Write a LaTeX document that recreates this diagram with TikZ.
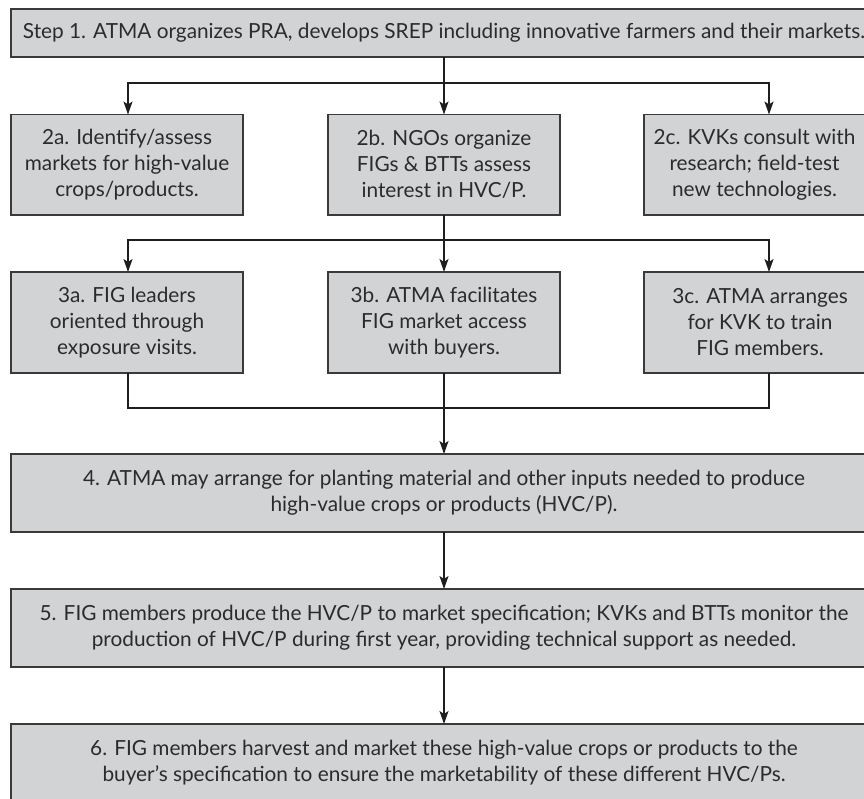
\documentclass[tikz,border=0pt]{standalone}
\usepackage{fontspec}
\setmainfont{Lato}
\usetikzlibrary{arrows.meta,calc}
\definecolor{boxfill}{HTML}{D2D3D5}
\definecolor{boxline}{HTML}{3A3A3A}
\definecolor{ink}{HTML}{2B2B2B}
\definecolor{wire}{HTML}{1E1E1E}
\begin{document}
\begin{tikzpicture}[x=1pt,y=-1pt,
  stepbox/.style={draw=boxline, line width=1.3pt, fill=boxfill, text=ink,
    align=center, inner sep=0pt, outer sep=0pt, anchor=north west,
    font=\fontsize{20.8}{26}\selectfont},
  widebox/.style={stepbox, minimum width=866pt},
  smallbox/.style={stepbox, minimum width=232pt},
  link/.style={draw=wire, line width=1.6pt},
  arr/.style={link, -{Stealth[length=13pt,width=9pt,inset=3pt]}}]
\useasboundingbox (0,0) rectangle (864,798);
\fill[white] (0,0) rectangle (864,798);

% step boxes
\node[widebox, minimum height=48pt] (s1) at (11,9)
  {Step 1. ATMA organizes PRA, develops SREP including innovative farmers and their markets.};

\node[smallbox, minimum height=100.5pt] (a2) at (11,114.5)
  {2a. Identify/assess\\markets for high-value\\crops/products.};
\node[smallbox, minimum height=100.5pt] (b2) at (328,114.5)
  {2b. NGOs organize\\FIGs \& BTTs assess\\interest in HVC/P.};
\node[stepbox, minimum width=221pt, minimum height=100.5pt] (c2) at (644,114.5)
  {2c. KVKs consult with\\research; field-test\\new technologies.};

\node[smallbox, minimum height=101pt] (a3) at (11,272)
  {3a. FIG leaders\\oriented through\\exposure visits.};
\node[smallbox, minimum height=101pt] (b3) at (328,272)
  {3b. ATMA facilitates\\FIG market access\\with buyers.};
\node[smallbox, minimum height=101pt] (c3) at (644,272)
  {3c. ATMA arranges\\for KVK to train\\FIG members.};

\node[widebox, minimum height=78pt] (s4) at (11,454)
  {4. ATMA may arrange for planting material and other inputs needed to produce\\high-value crops or products (HVC/P).};
\node[widebox, minimum height=78pt] (s5) at (11,589)
  {5. FIG members produce the HVC/P to market specification; KVKs and BTTs monitor the\\production of HVC/P during first year, providing technical support as needed.};
\node[widebox, minimum height=78pt] (s6) at (11,724)
  {6. FIG members harvest and market these high-value crops or products to the\\buyer’s specification to ensure the marketability of these different HVC/Ps.};

% branch columns and junctions
\coordinate (lx) at (128,0);
\coordinate (rx) at (769,0);
\coordinate (j1) at (444,83);
\coordinate (j2) at (444,240);
\coordinate (j3) at (444,408);

% step 1 to row 2
\draw[link] (s1.south) -- (j1);
\draw[arr] (j1) -- (b2.north);
\draw[arr] (j1) -| (a2.north -| lx);
\draw[arr] (j1) -| (c2.north -| rx);

% row 2 to row 3
\draw[link] (b2.south) -- (j2);
\draw[arr] (j2) -- (b3.north);
\draw[arr] (j2) -| (a3.north -| lx);
\draw[arr] (j2) -| (c3.north -| rx);

% row 3 merges into step 4
\draw[link] (a3.south -| lx) |- (j3);
\draw[link] (c3.south -| rx) |- (j3);
\draw[arr] (b3.south) -- (s4.north);

% steps 4 to 6
\draw[arr] (s4.south) -- (s5.north);
\draw[arr] (s5.south) -- (s6.north);
\end{tikzpicture}
\end{document}
